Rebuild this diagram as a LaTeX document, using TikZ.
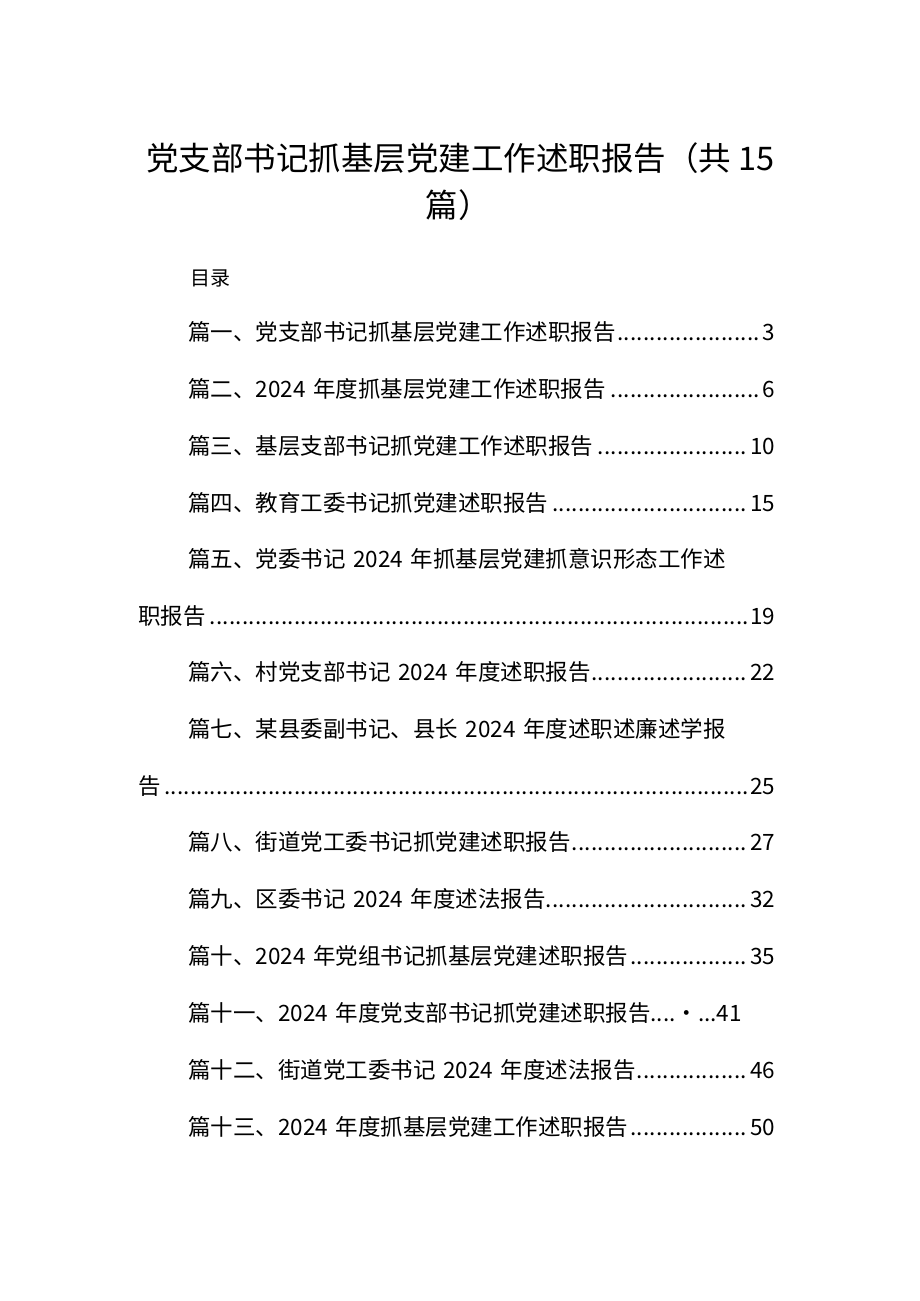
\documentclass[tikz,border=0pt]{standalone}
\usepackage{fontspec}
\setmainfont{Noto Sans CJK SC}
\newcommand{\ldrs}{\leaders\hbox to 6.5pt{\hss.\hss}\hfill}
\begin{document}
\begin{tikzpicture}[x=1pt,y=-1pt,
  entry/.style={anchor=west,inner sep=0pt,text width=587pt,font=\fontsize{22.5}{26}\selectfont},
  wide/.style={entry,text width=637pt},
  ttl/.style={inner sep=0pt,font=\fontsize{32.5}{38}\selectfont}]
\useasboundingbox (0,0) rectangle (920,1301);
\node[ttl,anchor=west] (t1) at (146,158) {党支部书记抓基层党建工作述职报告（共 15};
\node[ttl] (t2) at (458,205) {篇）};
\node[anchor=west,inner sep=0pt,font=\fontsize{20}{24}\selectfont] (ml) at (190,278) {目录};
\node[entry] (e1) at (188,332) {篇一、党支部书记抓基层党建工作述职报告\ldrs 3};
\node[entry] (e2) at (188,389) {篇二、2024 年度抓基层党建工作述职报告\ldrs 6};
\node[entry] (e3) at (188,446) {篇三、基层支部书记抓党建工作述职报告\ldrs 10};
\node[entry] (e4) at (188,503) {篇四、教育工委书记抓党建述职报告\ldrs 15};
\node[entry] (e5) at (188,559) {篇五、党委书记 2024 年抓基层党建抓意识形态工作述};
\node[wide] (e5b) at (138,616) {职报告\ldrs 19};
\node[entry] (e6) at (188,672) {篇六、村党支部书记 2024 年度述职报告\ldrs 22};
\node[entry] (e7) at (188,729) {篇七、某县委副书记、县长 2024 年度述职述廉述学报};
\node[wide] (e7b) at (138,786) {告\ldrs 25};
\node[entry] (e8) at (188,842) {篇八、街道党工委书记抓党建述职报告\ldrs 27};
\node[entry] (e9) at (188,899) {篇九、区委书记 2024 年度述法报告\ldrs 32};
\node[entry] (e10) at (188,956) {篇十、2024 年党组书记抓基层党建述职报告\ldrs 35};
\node[entry] (e11) at (188,1013) {篇十一、2024 年度党支部书记抓党建述职报告....·...41};
\node[entry] (e12) at (188,1070) {篇十二、街道党工委书记 2024 年度述法报告\ldrs 46};
\node[entry] (e13) at (188,1127) {篇十三、2024 年度抓基层党建工作述职报告\ldrs 50};
\end{tikzpicture}
\end{document}
